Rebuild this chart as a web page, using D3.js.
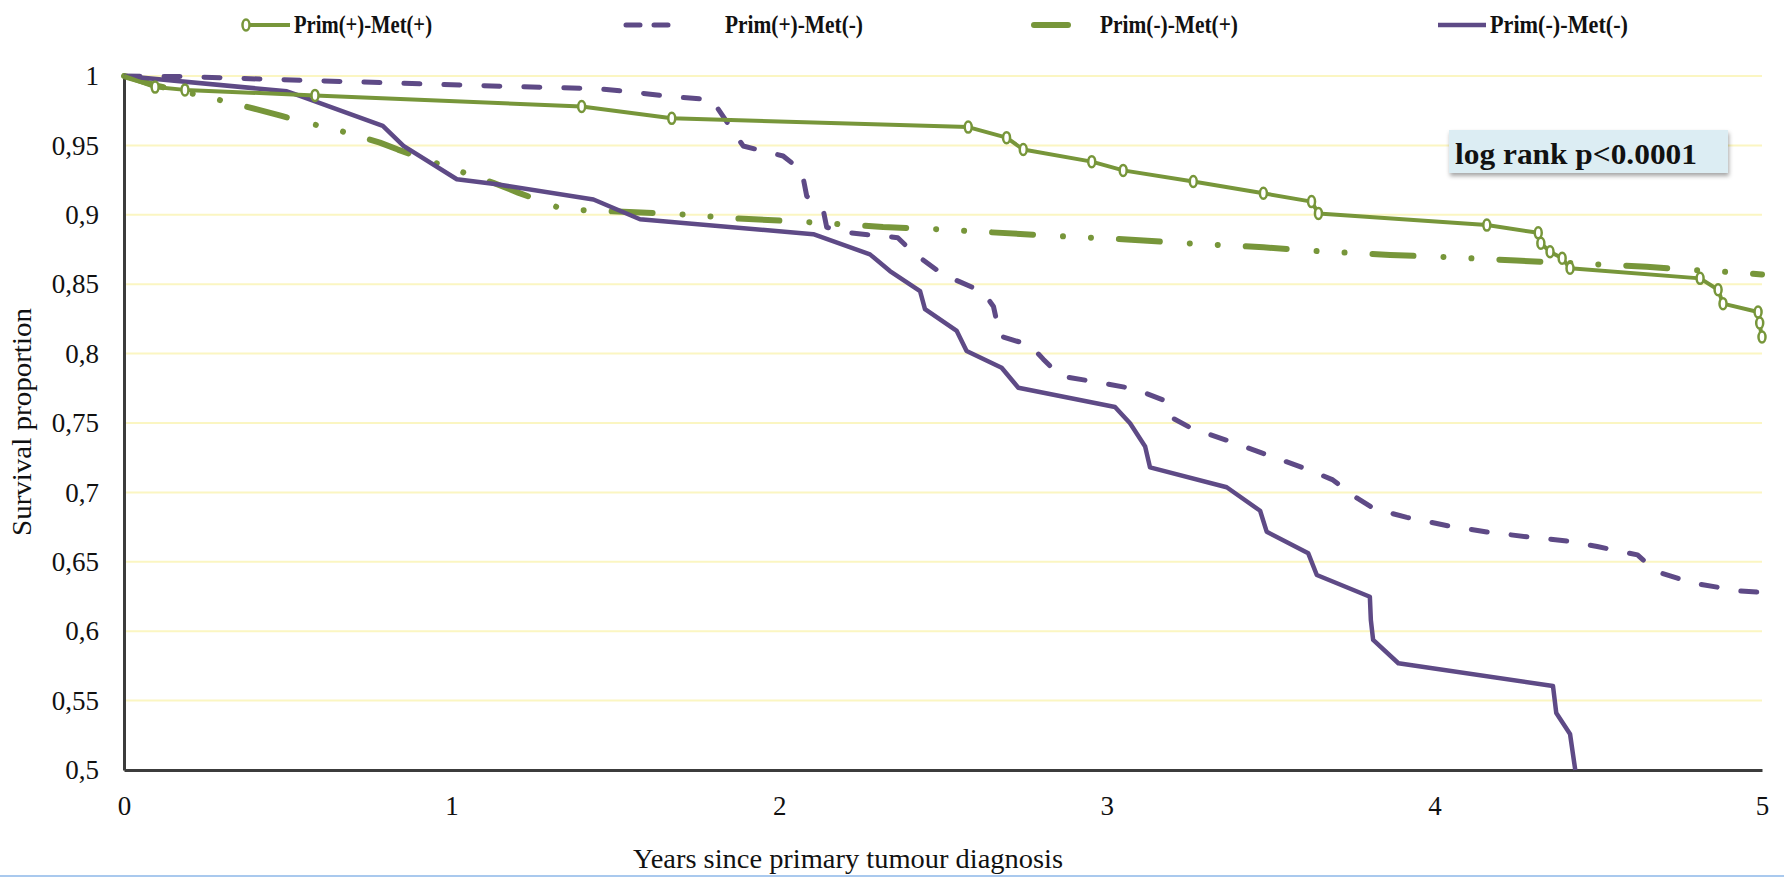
<!DOCTYPE html>
<html>
<head>
<meta charset="utf-8">
<script src="https://cdn.jsdelivr.net/npm/d3@7"></script>
<style>
  body { margin: 0; background: #fff; }
  text { font-family: "Liberation Serif", "Times New Roman", serif; fill: #111; }
</style>
</head>
<body>
<div id="plot"></div>
<script>
// survival curves: [years, proportion]
var primPosMetPos = [[0,1],[0.095,0.992],[0.186,0.990],[0.583,0.986],[1.397,0.978],[1.672,0.9695],[2.577,0.9632],
  [2.694,0.9556],[2.745,0.947],[2.954,0.9383],[3.05,0.932],[3.264,0.924],[3.478,0.9155],[3.625,0.9095],[3.646,0.901],
  [4.16,0.8926],[4.317,0.887],[4.325,0.8795],[4.353,0.8734],[4.39,0.8687],[4.414,0.8615],[4.811,0.8542],[4.866,0.846],
  [4.881,0.836],[4.988,0.830],[4.993,0.822],[5,0.81]];
var primPosMetPosCensor = [[0.095,0.992],[0.186,0.990],[0.583,0.986],[1.397,0.978],[1.672,0.9695],[2.577,0.9632],
  [2.694,0.9556],[2.745,0.947],[2.954,0.9383],[3.05,0.932],[3.264,0.924],[3.478,0.9155],[3.625,0.9095],[3.646,0.901],
  [4.16,0.8926],[4.317,0.887],[4.325,0.8795],[4.353,0.8734],[4.39,0.8687],[4.414,0.8615],[4.811,0.8542],[4.866,0.846],
  [4.881,0.836],[4.988,0.830],[4.993,0.822],[5,0.812]];
var primPosMetNeg = [[0,1],[0.2,0.9995],[0.445,0.9976],[0.72,0.9957],[0.952,0.994],[1.197,0.9923],[1.444,0.9909],
  [1.53,0.989],[1.676,0.985],[1.794,0.983],[1.89,0.9496],[1.95,0.946],[2.012,0.9424],[2.069,0.9316],[2.084,0.9135],
  [2.135,0.9027],[2.145,0.891],[2.216,0.887],[2.362,0.8835],[2.409,0.8727],[2.5,0.857],[2.622,0.8444],[2.654,0.834],
  [2.674,0.8127],[2.766,0.806],[2.806,0.796],[2.857,0.784],[2.967,0.7795],[3.086,0.7745],[3.172,0.7666],[3.193,0.7545],
  [3.26,0.746],[3.382,0.7363],[3.49,0.727],[3.62,0.716],[3.69,0.709],[3.763,0.696],[3.818,0.688],[3.916,0.682],
  [4.04,0.676],[4.16,0.6715],[4.283,0.668],[4.404,0.665],[4.497,0.661],[4.62,0.655],[4.66,0.6465],[4.69,0.642],
  [4.79,0.6347],[4.93,0.629],[5,0.628]];
var primNegMetPos = [[0,1],[0.1,0.993],[0.263,0.9844],[0.406,0.976],[0.481,0.9712],[0.563,0.966],[0.639,0.962],
  [0.781,0.952],[0.836,0.947],[0.98,0.935],[1.05,0.9294],[1.127,0.9231],[1.203,0.916],[1.34,0.904],[1.468,0.9027],
  [1.688,0.9006],[1.855,0.8975],[2.07,0.895],[2.317,0.8912],[2.466,0.8898],[2.63,0.8876],[2.85,0.8847],[3.015,0.8828],
  [3.244,0.8795],[3.478,0.8766],[3.63,0.874],[3.865,0.871],[4.017,0.8698],[4.25,0.867],[4.393,0.8655],[4.648,0.8626],
  [4.79,0.8602],[4.953,0.858],[5,0.857]];
var primNegMetNeg = [[0,1],[0.497,0.989],[0.537,0.9856],[0.79,0.964],[0.853,0.9496],[1.016,0.9256],[1.138,0.922],
  [1.433,0.911],[1.575,0.8968],[2.104,0.886],[2.277,0.8715],[2.338,0.8595],[2.43,0.845],[2.445,0.832],[2.542,0.8163],
  [2.572,0.8019],[2.679,0.7898],[2.73,0.7754],[3.025,0.7615],[3.071,0.7498],[3.117,0.733],[3.132,0.718],[3.366,0.7037],
  [3.468,0.6868],[3.488,0.6717],[3.615,0.6561],[3.641,0.6405],[3.803,0.6248],[3.806,0.608],[3.813,0.5937],[3.89,0.5769],
  [4.362,0.5605],[4.372,0.541],[4.414,0.526],[4.43,0.5]];

var yTicks = [1, 0.95, 0.9, 0.85, 0.8, 0.75, 0.7, 0.65, 0.6, 0.55, 0.5];
var yTickLabels = ["1", "0,95", "0,9", "0,85", "0,8", "0,75", "0,7", "0,65", "0,6", "0,55", "0,5"];
var xTicks = [0, 1, 2, 3, 4, 5];
var legendNames = ["Prim(+)-Met(+)", "Prim(+)-Met(-)", "Prim(-)-Met(+)", "Prim(-)-Met(-)"];

var green = "#77963a", purple = "#5e4a86";

var W = 1784, H = 879;
var svg = d3.select("#plot").append("svg").attr("width", W).attr("height", H);

var x = d3.scaleLinear().domain([0, 5]).range([124, 1762]);
var y = d3.scaleLinear().domain([0.5, 1]).range([770, 76]);

// gridlines
svg.append("g").selectAll("line").data(yTicks).join("line")
  .attr("x1", x(0)).attr("x2", x(5))
  .attr("y1", d => y(d)).attr("y2", d => y(d))
  .attr("stroke", "#fbf6c2").attr("stroke-width", 2);

// axes
var yAxis = svg.append("g").attr("transform", `translate(${x(0)},0)`)
  .call(d3.axisLeft(y).tickValues(yTicks).tickSize(0).tickPadding(25)
    .tickFormat((d, i) => yTickLabels[i]));
var xAxis = svg.append("g").attr("transform", `translate(0,${y(0.5)})`)
  .call(d3.axisBottom(x).tickValues(xTicks).tickSize(0).tickPadding(26).tickFormat(d3.format("d")));
[yAxis, xAxis].forEach(function(a) {
  a.select(".domain").attr("stroke", "#3c3c3c").attr("stroke-width", 3);
  a.selectAll("text").style("font-family", "Liberation Serif").style("font-size", "27px").attr("fill", "#111");
});

svg.append("text")
  .attr("transform", "translate(31,422) rotate(-90)")
  .attr("text-anchor", "middle")
  .attr("textLength", 228).attr("lengthAdjust", "spacingAndGlyphs")
  .style("font-size", "27px")
  .text("Survival proportion");

svg.append("text")
  .attr("x", 848).attr("y", 868)
  .attr("text-anchor", "middle")
  .attr("textLength", 430).attr("lengthAdjust", "spacingAndGlyphs")
  .style("font-size", "27px")
  .text("Years since primary tumour diagnosis");

svg.append("line").attr("x1", 0).attr("x2", W).attr("y1", 876).attr("y2", 876)
  .attr("stroke", "#a9c9ee").attr("stroke-width", 2);

// curves
var line = d3.line().x(d => x(d[0])).y(d => y(d[1]));
var series = [
  {data: primPosMetNeg, color: purple, width: 5, dash: "16,24", cap: "round"},
  {data: primNegMetPos, color: green, width: 6, dash: "41,30,0.01,28,0.01,28", cap: "round"},
  {data: primNegMetNeg, color: purple, width: 4.5, dash: null, cap: "butt"},
  {data: primPosMetPos, color: green, width: 4, dash: null, cap: "butt"}
];
svg.append("g").selectAll("path").data(series).join("path")
  .attr("d", d => line(d.data))
  .attr("fill", "none")
  .attr("stroke", d => d.color)
  .attr("stroke-width", d => d.width)
  .attr("stroke-dasharray", d => d.dash)
  .attr("stroke-linecap", d => d.cap)
  .attr("stroke-linejoin", "round");

svg.append("g").selectAll("ellipse").data(primPosMetPosCensor).join("ellipse")
  .attr("cx", d => x(d[0])).attr("cy", d => y(d[1]))
  .attr("rx", 3.5).attr("ry", 5.5)
  .attr("fill", "#fff").attr("stroke", green).attr("stroke-width", 2.5);

// annotation
var defs = svg.append("defs");
var f = defs.append("filter").attr("id", "shadow").attr("x", "-10%").attr("y", "-20%").attr("width", "130%").attr("height", "160%");
f.append("feDropShadow").attr("dx", 1).attr("dy", 3).attr("stdDeviation", 2).attr("flood-color", "#000").attr("flood-opacity", 0.35);
svg.append("rect").attr("x", 1449).attr("y", 130).attr("width", 279).attr("height", 43)
  .attr("fill", "#dcedf3").attr("filter", "url(#shadow)");
svg.append("text").attr("x", 1455).attr("y", 164)
  .style("font-size", "29px").style("font-weight", "bold")
  .attr("textLength", 242).attr("lengthAdjust", "spacingAndGlyphs")
  .text("log rank p<0.0001");

// legend
var legendX = [294, 725, 1100, 1490];
var legY = 25;
var leg = svg.append("g");
leg.selectAll("text").data(legendNames).join("text")
  .attr("x", (d, i) => legendX[i]).attr("y", legY + 8)
  .attr("textLength", 138).attr("lengthAdjust", "spacingAndGlyphs")
  .style("font-size", "25px").style("font-weight", "bold")
  .text(d => d);
leg.append("line").attr("x1", 246).attr("x2", 290).attr("y1", legY).attr("y2", legY)
  .attr("stroke", green).attr("stroke-width", 4);
leg.append("ellipse").attr("cx", 246).attr("cy", legY).attr("rx", 3.5).attr("ry", 5.5)
  .attr("fill", "#fff").attr("stroke", green).attr("stroke-width", 2.5);
leg.append("line").attr("x1", 626).attr("x2", 668).attr("y1", legY).attr("y2", legY)
  .attr("stroke", purple).attr("stroke-width", 5).attr("stroke-dasharray", "14,14").attr("stroke-linecap", "round");
leg.append("line").attr("x1", 1034).attr("x2", 1092).attr("y1", legY).attr("y2", legY)
  .attr("stroke", green).attr("stroke-width", 6).attr("stroke-dasharray", "34,24,0.01,40").attr("stroke-linecap", "round");
leg.append("line").attr("x1", 1438).attr("x2", 1486).attr("y1", legY).attr("y2", legY)
  .attr("stroke", purple).attr("stroke-width", 4.5);
</script>
</body>
</html>
